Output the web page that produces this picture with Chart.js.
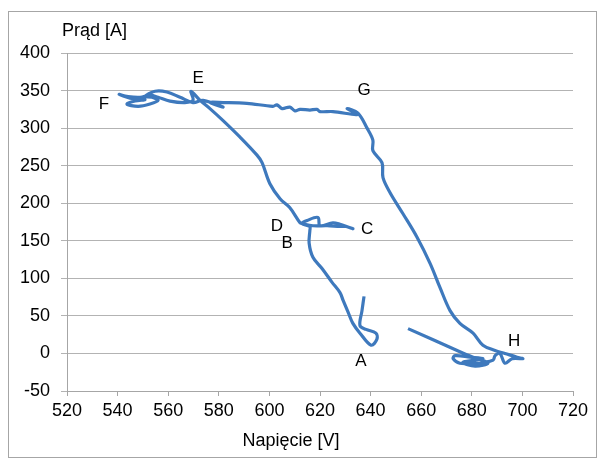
<!DOCTYPE html>
<html>
<head>
<meta charset="utf-8">
<script src="https://cdn.jsdelivr.net/npm/chart.js@4/dist/chart.umd.min.js"></script>
<style>
html,body{margin:0;padding:0;background:#fff;}
#wrap{position:relative;width:599px;height:462px;}
</style>
</head>
<body>
<div id="wrap"><canvas id="c" width="599" height="462"></canvas></div>
<script>
// Voltage [V] (x) and current [A] (y) along the trajectory
const voltage = [637.4,636.6,635.8,638.2,642.1,642.5,640.2,635.8,633.0,631.1,629.1,627.9,624.7,620.8,617.2,615.7,616.0,616.0,
  612.9,614.9,619.2,620.0,625.1,627.9,633.0,630.3,627.9,622.8,617.2,612.9,612.1,
  608.1,604.2,600.2,597.1,595.1,588.4,581.7,576.5,572.6,
  569.0,569.8,566.6,560.7,556.0,552.8,548.9,544.1,540.6,544.9,550.8,546.9,543.7,548.1,552.8,556.0,553.6,550.8,554.8,559.5,564.7,569.8,573.8,581.7,576.5,
  581.7,591.1,601.4,603.0,605.0,608.1,610.1,612.1,616.0,618.8,620.0,625.1,634.6,630.7,635.0,
  638.6,640.9,640.9,644.5,644.9,647.7,652.8,658.3,663.5,667.4,671.4,675.3,680.5,684.4,689.2,693.1,697.9,700.2,
  695.9,693.1,691.1,689.2,688.4,684.4,680.5,675.3,672.6,673.4,679.3,684.4,680.5,676.5,681.3,686.4,682.5,680.5,674.2,654.8];
const current = [76,57,37,32,27,19,11,27,40,55,71,81,95,113,128,147,164,169,
  173,177,181,170,174,172,166,169,169,170,170,173,174,
  194,206,226,254,264,288,310,326,337,
  349,337,334,336,341,344,341,342,345,340,338,336,332,329,332,337,341,342,349,348,341,334,337,328,334,
  334,333,329,331,326,328,323,325,324,325,322,322,318,326,320,
  300,284,270,254,234,214,186,155,120,88,57,40,27,11,4,0,-5,-7,
  -7,-13,0,-3,-9,-12,-13,-13,-7,-3,-5,-7,-9,-12,-17,-13,-7,-5,4,33];
// Point labels
const pointNames = ['A','B','C','D','E','F','G','H'];
const labelVoltage = [636.2,607,638.6,603,571.8,534.6,637.4,696.7];
const labelCurrent = [-11,146,165,169,366,332,350,16];
// Axis ticks
const xTicks = [520,540,560,580,600,620,640,660,680,700,720];
const yTicks = [-50,0,50,100,150,200,250,300,350,400];

const FONT = '"Liberation Sans", Arial, sans-serif';
const points = voltage.map((v,i)=>({x:v,y:current[i]}));

const annot = {
  id:'annot',
  beforeDraw(chart){
    const ctx = chart.ctx;
    ctx.save();
    ctx.fillStyle='#fff';
    ctx.fillRect(0,0,chart.width,chart.height);
    ctx.strokeStyle='#a6a6a6';
    ctx.lineWidth=1;
    ctx.strokeRect(8.5,11.5,588,446);
    ctx.restore();
  },
  afterDraw(chart){
    const ctx = chart.ctx, xs = chart.scales.x, ys = chart.scales.y;
    ctx.save();
    ctx.fillStyle='#000';
    ctx.font='17px '+FONT;
    ctx.textAlign='center'; ctx.textBaseline='middle';
    pointNames.forEach((n,i)=>{
      ctx.fillText(n, xs.getPixelForValue(labelVoltage[i]), ys.getPixelForValue(labelCurrent[i]));
    });
    ctx.font='18px '+FONT;
    ctx.textAlign='left';
    ctx.fillText('Prąd [A]', 62, 31);
    ctx.textAlign='center';
    ctx.fillText('Napięcie [V]', 291, 441);
    ctx.restore();
  }
};

new Chart(document.getElementById('c'), {
  type:'scatter',
  data:{datasets:[{
    data:points,
    showLine:true,
    borderColor:'#3e79bd',
    borderWidth:3.2,
    pointRadius:0,
    tension:0.35,
    fill:false
  }]},
  options:{
    responsive:false,
    animation:false,
    layout:{padding:{left:0,top:53,right:26,bottom:0}},
    plugins:{legend:{display:false},tooltip:{enabled:false}},
    scales:{
      x:{
        type:'linear',min:520,max:720,
        afterBuildTicks(s){ s.ticks = xTicks.map(v=>({value:v})); },
        afterFit(s){ s.height = 71; },
        grid:{drawOnChartArea:false,drawTicks:true,tickLength:5,color:'#a6a6a6'},
        border:{color:'#a6a6a6'},
        ticks:{color:'#000',font:{family:FONT,size:18},padding:4,maxRotation:0,autoSkip:false}
      },
      y:{
        type:'linear',min:-50,max:400,
        afterBuildTicks(s){ s.ticks = yTicks.map(v=>({value:v})); },
        afterFit(s){ s.width = 67; },
        grid:{color:'#b3b3b3',drawTicks:true,tickLength:6},
        border:{color:'#a6a6a6'},
        ticks:{color:'#000',font:{family:FONT,size:18},padding:11,autoSkip:false}
      }
    }
  },
  plugins:[annot]
});
</script>
</body>
</html>
